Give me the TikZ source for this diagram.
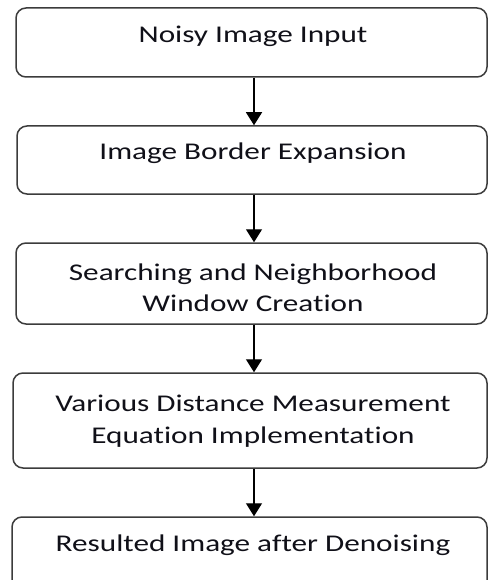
\documentclass[tikz,border=0pt]{standalone}
\usepackage{fontspec}
\setmainfont{Carlito}[Ligatures=NoCommon]
\usetikzlibrary{arrows.meta}
\definecolor{boxgray}{HTML}{3C3C3C}
\definecolor{txtcol}{HTML}{101018}
\begin{document}
\begin{tikzpicture}[x=1pt,y=-1pt,
  box/.style={draw=boxgray, line width=1.5pt, rounded corners=10pt, inner sep=0pt},
  txt/.style={anchor=base, align=center, font=\fontsize{24}{31.5}\selectfont, text=txtcol, xscale=1.3, transform shape, inner sep=0pt},
  flow/.style={line width=1.3pt, draw=black, -{Triangle[width=16pt,length=13pt]}}]
\path[use as bounding box] (0,0) rectangle (488,580);
\clip (0,0) rectangle (488,580);
\coordinate (ax) at (254,0);
\node[box, minimum width=471pt, minimum height=69pt] (b1) at (251.5,42.5) {};
\node[box, minimum width=470pt, minimum height=68pt] (b2) at (252,160) {};
\node[box, minimum width=471pt, minimum height=81pt] (b3) at (251.5,283.5) {};
\node[box, minimum width=474pt, minimum height=95pt] (b4) at (250,420.5) {};
\node[box, minimum width=475pt, minimum height=82pt] (b5) at (249.5,558) {};
\node[txt] (t1) at (253,42.3) {Noisy Image Input};
\node[txt] (t2) at (253,159.3) {Image Border Expansion};
\node[txt] (t3) at (253,311.7) {Searching and Neighborhood\\Window Creation};
\node[txt] (t4) at (253,443.3) {Various Distance Measurement\\Equation Implementation};
\node[txt] (t5) at (253,551.7) {Resulted Image after Denoising};
\draw[flow] (b1.south -| ax) -- (b2.north -| ax);
\draw[flow] (b2.south -| ax) -- (b3.north -| ax);
\draw[flow] (b3.south -| ax) -- (b4.north -| ax);
\draw[flow] (b4.south -| ax) -- (b5.north -| ax);
\end{tikzpicture}
\end{document}
